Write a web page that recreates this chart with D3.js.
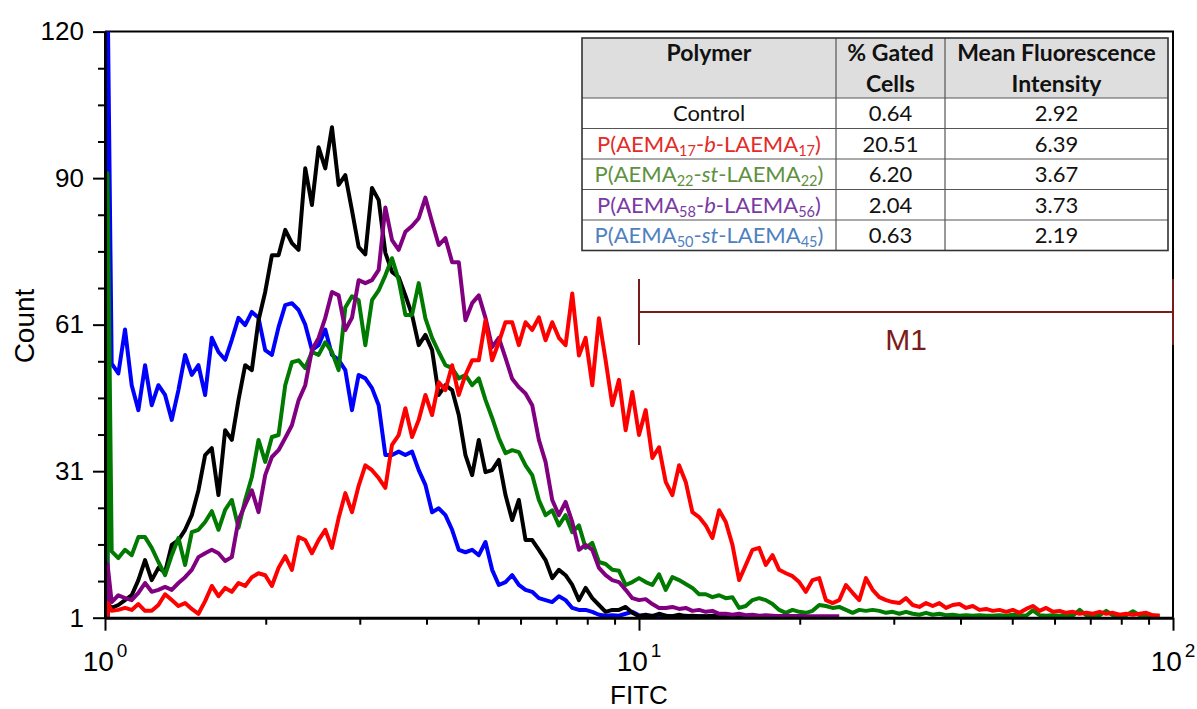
<!DOCTYPE html>
<html>
<head>
<meta charset="utf-8">
<script src="https://cdn.jsdelivr.net/npm/d3@7"></script>
<style>
  body { margin: 0; background: #fff; }
  svg { display: block; }
</style>
</head>
<body>
<svg id="chart" width="1197" height="709"></svg>
<script>
// histogram channels: one point every 0.0125 decade, starting at 10^0
const logStep = 0.0125;

const blueSeries = [130, 52, 50, 59, 47.6, 42.5, 51.7, 43.5, 47.6, 45.6,
  40.5, 46.6, 53.8, 49.7, 51.7, 45.6, 57.3, 54.4, 52.8, 56.9,
  61.4, 59.9, 62.6, 61.4, 54.8, 53.8, 59.5, 64, 64.4, 63,
  60, 54.8, 55.8, 59, 53.8, 52.8, 50.7, 42.5, 49.7, 49,
  47, 43.5, 33.3, 33.3, 34, 33.3, 34, 30.2, 27.2, 21.6,
  22.4, 21, 18, 13.9, 13.4, 13.9, 12.8, 15.5, 9.8, 6.7,
  7.3, 8.7, 6.7, 5.7, 5.3, 4, 3.6, 3.2, 4.4, 3.6,
  2, 1.6, 1.6, 1.2, 0.6, 0.4, 0.5, 0.4, 0.8, 1.2,
  0.5, 0.4, 0.4, 0.3, 0.4, 0.3, 0.3, 0.4, 0.3, 0.3, 0.3];

const blackSeries = [3, 2, 2.6, 3.6, 4.6, 7.7, 11.8, 7.7, 10.2, 9.3,
  14.9, 15.9, 18, 21, 26.1, 33.3, 34.7, 25.1, 38.4, 36.4,
  44.6, 51.7, 50.7, 60.9, 66.7, 74.2, 74.2, 79.4, 76.7, 75.3,
  92, 84.5, 96.3, 92, 100.4, 88.6, 90.6, 83.4, 75.9, 74.4,
  88, 85.5, 74.7, 70.8, 69.7, 66, 62, 55.8, 57.9, 54.8,
  45.6, 47.6, 46.6, 41.5, 33.3, 29.2, 36.4, 29.8, 30.2, 32.3,
  25.1, 20, 24.1, 15.9, 15.9, 13.9, 11.8, 8.1, 9.8, 8.7,
  6.7, 3.6, 6.1, 4, 2.6, 1.2, 1.6, 1.6, 2.2, 1,
  0.3, 0.6, 0.3, 0.8, 0.4, 0.3, 0.6, 0.3, 0.4, 0.3,
  0.3, 0.4, 0.3, 0.3, 0.3, 0.3, 0.3, 0.3, 0.3, 0.3,
  0.3, 0.3, 0.3, 0.3, 0.3, 0.3];

const greenSeries = [91, 13.6, 12.2, 13.9, 12.8, 16.5, 16.5, 14.3, 11.4, 8.7,
  12.8, 16.3, 10.8, 17.5, 18, 19.6, 21.8, 18, 22.1, 24.1,
  18.4, 24.1, 28.8, 36.4, 31.9, 37, 37.4, 47.6, 52.3, 52.7,
  51.1, 54.4, 53.8, 56.4, 54.4, 50.7, 63.5, 65.8, 65, 55.8,
  65, 67, 70.1, 73.6, 69.1, 62, 62, 68.5, 61.3, 57.3,
  54.4, 51.7, 51.1, 49, 49.7, 47.6, 49, 44.6, 40.9, 36.8,
  33.7, 34.3, 33.9, 31.2, 29.2, 24.1, 21, 22, 18.9, 21,
  17.5, 18.9, 14.3, 15.3, 11.4, 11, 9.8, 9.6, 6.7, 7.3,
  8.1, 7.3, 6.7, 8.9, 5.7, 8.3, 7.7, 6.9, 6.1, 4.8,
  4.8, 4.2, 4.6, 4, 4.2, 2, 2.4, 3.6, 4, 3.6,
  2.8, 1.6, 1, 1.6, 1.2, 1, 1.4, 2.6, 2.4, 2,
  2.2, 1.6, 1, 1.6, 1.4, 1.6, 1.4, 1, 1.2, 0.8,
  1.2, 0.8, 0.6, 1, 0.6, 0.8, 0.5, 0.6, 0.4, 0.5,
  0.4, 0.5, 0.4, 0.4, 0.5, 0.4, 0.6, 0.5, 0.4, 1.5,
  0.5, 0.4, 0.5, 0.4, 0.6, 0.4, 1.6, 0.5, 0.4, 0.5,
  1.4, 0.5, 0.4, 0.5, 1.3, 0.5, 0.4, 0.4, 0.4];

const purpleSeries = [11, 3.2, 4.6, 4, 3.6, 5.1, 7.1, 5.3, 5.7, 6.3,
  5.7, 7.1, 8.3, 9.8, 12.4, 13.2, 13.9, 13.2, 11.6, 12.4,
  20, 23.1, 26.1, 21.6, 29.2, 32.9, 34.3, 36.8, 39.4, 44.5,
  47.6, 54.8, 57.3, 61.4, 66.7, 66, 58.9, 61.4, 69.1, 68.5,
  69.1, 71.2, 84, 77.3, 75.3, 79, 80.2, 81.8, 86, 81,
  76.3, 77.7, 72.8, 72.8, 60.9, 64.4, 66, 61.4, 55.4, 57.3,
  53.2, 48.9, 47.2, 45.9, 43.5, 36.4, 31.9, 24.1, 21, 23.7,
  19.6, 13.9, 14.9, 13.9, 10.2, 8.7, 7.7, 7.3, 5.7, 4,
  3.6, 3.8, 2.8, 2, 2, 2.2, 1.8, 2, 1.4, 1.6,
  1.2, 1.4, 0.8, 0.8, 0.6, 0.8, 0.5, 0.6, 0.4, 0.5,
  0.4, 0.3, 0.4, 0.3, 0.3, 0.3, 0.3, 0.3, 0.3, 0.3, 0.3];

const redSeries = [3, 1.4, 1.6, 2, 1.6, 2.8, 1.4, 1.4, 2.6, 4.8,
  3.6, 2.4, 3, 1.8, 0.8, 3.4, 6.5, 4.4, 6.1, 5.3,
  7.1, 6.5, 8.3, 9.1, 8.7, 6.5, 10.2, 12.6, 9.8, 16.5,
  15.9, 13.2, 15.9, 18, 14.3, 20.4, 25.5, 21.6, 27, 31.2,
  30.2, 28.6, 26.6, 35.4, 37.4, 42.9, 37, 40.5, 45.6, 41.5,
  48.2, 46.6, 51.7, 45.6, 49.7, 52.7, 52.7, 60.9, 52.7, 56.4,
  60.5, 60.5, 55.8, 60.5, 58.9, 61.5, 56.8, 60.5, 57.3, 55.8,
  66.4, 53.7, 57.3, 47.6, 61.3, 52.7, 43.5, 48.7, 38.4, 46.2,
  37.4, 42.5, 32.7, 34.9, 27.8, 25.1, 31.2, 27.8, 21.6, 20.6,
  18.9, 16.3, 22, 19.6, 14.9, 7.7, 10.8, 13.9, 14.3, 10.8,
  12.8, 9.8, 9.1, 8.5, 7.3, 5.3, 7.7, 8.1, 3.6, 3,
  3.6, 6.7, 5.1, 3.6, 8.1, 5.7, 4.2, 3.6, 3.2, 3,
  4, 2.6, 2.2, 3, 2.4, 3, 2, 2.6, 2.8, 2,
  2.4, 1.6, 1.8, 1.4, 1.6, 1.2, 1.6, 1, 1.8, 2.4,
  1.4, 2, 1.2, 1.4, 1, 1.2, 0.8, 1, 0.8, 1.2,
  0.8, 1, 0.6, 0.8, 0.6, 0.8, 1, 0.5, 0.4];

// axis ticks
const yTickValues = [0, 30, 60, 90, 120];
const yTickLabels = ["1", "31", "61", "90", "120"];
const xMajorTicks = [1, 10, 100];
const xExponents = ["0", "1", "2"];

// marker M1 covers 10^1 .. 10^2
const markerRange = [10, 100];
const markerName = "M1";

// table
const tableHeader = [["Polymer"], ["% Gated", "Cells"], ["Mean Fluorescence", "Intensity"]];
const polymerNames = ["Control", "P(AEMA{17}-*b*-LAEMA{17})", "P(AEMA{22}-*st*-LAEMA{22})",
  "P(AEMA{58}-*b*-LAEMA{56})", "P(AEMA{50}-*st*-LAEMA{45})"];
const gatedCells = ["0.64", "20.51", "6.20", "2.04", "0.63"];
const meanIntensity = ["2.92", "6.39", "3.67", "3.73", "2.19"];
const nameColors = ["#111", "#e42b27", "#5e9140", "#7a3aa3", "#4f81c0"];

const series = [
  {values: blueSeries, color: "#0000ff"},
  {values: blackSeries, color: "#000000"},
  {values: greenSeries, color: "#007a00"},
  {values: purpleSeries, color: "#800080"},
  {values: redSeries, color: "#ff0000"}
];

const svg = d3.select("#chart");
const font = "'Liberation Sans', Arial, sans-serif";

const x = d3.scaleLog().domain([1, 100]).range([105, 1173]);
const y = d3.scaleLinear().domain([0, 120]).range([617.7, 31.6]);

svg.append("defs").append("clipPath").attr("id", "plotClip")
  .append("rect")
  .attr("x", x(1)).attr("y", y(120))
  .attr("width", x(100) - x(1)).attr("height", y(0) - y(120));

// frame (top and right)
svg.append("path")
  .attr("d", `M${x(1)},${y(120)}H${x(100)}V${y(0)}`)
  .attr("fill", "none").attr("stroke", "#000").attr("stroke-width", 2);

// curves
const line = d3.line().x(d => d[0]).y(d => y(d[1]));
function points(values) {
  // first channel holds everything below 10^0 : drawn as a vertical bar just inside the axis
  const pts = values.map((v, i) => [i === 0 ? x(1) + 2.5 : x(Math.pow(10, i * logStep)), v]);
  pts.unshift([x(1) + 2.5, 0]);
  return pts;
}
svg.append("g").attr("clip-path", "url(#plotClip)")
  .selectAll("path")
  .data(series)
  .enter().append("path")
    .attr("d", d => line(points(d.values)))
    .attr("fill", "none")
    .attr("stroke", d => d.color)
    .attr("stroke-width", 4)
    .attr("stroke-linejoin", "round");

// x axis
const xMinor = [];
[1, 10].forEach(dec => { for (let k = 2; k <= 9; k++) xMinor.push(dec * k); });

const xAxis = svg.append("g").attr("transform", `translate(0,${y(0)})`);
xAxis.call(d3.axisBottom(x).tickValues(xMajorTicks).tickFormat("").tickSize(13).tickSizeOuter(0));
xAxis.append("g").call(d3.axisBottom(x).tickValues(xMinor).tickFormat("").tickSize(7).tickSizeOuter(0))
  .select(".domain").remove();
xAxis.selectAll(".domain").attr("stroke-width", 3);
xAxis.selectAll(".tick line").attr("stroke-width", 2);

const xLabels = svg.append("g").attr("font-family", font).attr("fill", "#000");
xMajorTicks.forEach((t, i) => {
  const lab = xLabels.append("text").attr("x", x(t)).attr("y", 671)
    .attr("text-anchor", "middle").attr("font-size", 28);
  lab.append("tspan").text("10");
  lab.append("tspan").attr("font-size", 19).attr("dy", -14).attr("dx", 3).text(xExponents[i]);
});

svg.append("text").attr("x", x(10)).attr("y", 704)
  .attr("text-anchor", "middle").attr("font-family", font).attr("font-size", 26)
  .text("FITC");

// y axis
const yMinor = d3.range(7.5, 120, 7.5).filter(v => v % 30 !== 0);
const yAxis = svg.append("g").attr("transform", `translate(${x(1)},0)`);
yAxis.call(d3.axisLeft(y).tickValues(yTickValues)
  .tickFormat((d, i) => yTickLabels[i]).tickSize(12).tickPadding(9).tickSizeOuter(0));
yAxis.append("g").call(d3.axisLeft(y).tickValues(yMinor).tickFormat("").tickSize(7).tickSizeOuter(0))
  .select(".domain").remove();
yAxis.selectAll(".domain").attr("stroke-width", 3);
yAxis.selectAll(".tick line").attr("stroke-width", 2);
yAxis.selectAll(".tick text").attr("font-family", font).attr("font-size", 26).attr("fill", "#000");

svg.append("text")
  .attr("transform", "translate(34,326) rotate(-90)")
  .attr("text-anchor", "middle").attr("font-family", font).attr("font-size", 28)
  .text("Count");

// M1 gate marker
const mColor = "#7b1c1c";
const mY = 312;
const marker = svg.append("g").attr("stroke", mColor).attr("stroke-width", 2).attr("fill", "none");
marker.append("line").attr("x1", x(markerRange[0])).attr("x2", x(markerRange[1])).attr("y1", mY).attr("y2", mY);
markerRange.forEach(v => {
  marker.append("line").attr("x1", x(v)).attr("x2", x(v)).attr("y1", mY - 33).attr("y2", mY + 33);
});
svg.append("text")
  .attr("x", (x(markerRange[0]) + x(markerRange[1])) / 2).attr("y", 350)
  .attr("text-anchor", "middle").attr("font-family", font).attr("font-size", 30)
  .attr("fill", mColor).text(markerName);

// table
const colX = [582, 836, 945, 1168];
const tableTop = 38, headerBottom = 98, rowH = 30.5;
const tableBottom = headerBottom + rowH * polymerNames.length;
const tfont = "Lato, 'Open Sans', sans-serif";
const table = svg.append("g").attr("font-family", tfont);

table.append("rect").attr("x", colX[0]).attr("y", tableTop)
  .attr("width", colX[3] - colX[0]).attr("height", tableBottom - tableTop).attr("fill", "#fff");
table.append("rect").attr("x", colX[0]).attr("y", tableTop)
  .attr("width", colX[3] - colX[0]).attr("height", headerBottom - tableTop).attr("fill", "#dedede");

const grid = table.append("g").attr("stroke", "#555").attr("stroke-width", 1.2);
d3.range(polymerNames.length).forEach(r => {
  const yy = headerBottom + r * rowH;
  grid.append("line").attr("x1", colX[0]).attr("x2", colX[3]).attr("y1", yy).attr("y2", yy);
});
colX.slice(1, 3).forEach(cx => {
  grid.append("line").attr("x1", cx).attr("x2", cx).attr("y1", tableTop).attr("y2", tableBottom);
});
table.append("rect").attr("x", colX[0]).attr("y", tableTop)
  .attr("width", colX[3] - colX[0]).attr("height", tableBottom - tableTop)
  .attr("fill", "none").attr("stroke", "#333").attr("stroke-width", 1.6);

const colCenter = [0, 1, 2].map(c => (colX[c] + colX[c + 1]) / 2);
tableHeader.forEach((lines, c) => {
  lines.forEach((txt, k) => {
    table.append("text").attr("x", colCenter[c]).attr("y", 61 + k * 31)
      .attr("text-anchor", "middle").attr("font-size", 23).attr("font-weight", "bold")
      .attr("fill", "#111").text(txt);
  });
});

function richText(sel, str) {
  // {..} = subscript, *..* = italic
  const parts = str.split(/(\{[^}]*\}|\*[^*]*\*)/).filter(s => s.length);
  let shifted = false;
  parts.forEach(p => {
    const t = sel.append("tspan");
    if (p[0] === "{") {
      t.text(p.slice(1, -1)).attr("font-size", "0.66em").attr("dy", 4);
      shifted = true;
    } else {
      if (shifted) { t.attr("dy", -4); shifted = false; }
      if (p[0] === "*") t.attr("font-style", "italic").text(p.slice(1, -1));
      else t.text(p);
    }
  });
}

polymerNames.forEach((name, r) => {
  const cy = headerBottom + r * rowH + rowH / 2 + 8;
  const t = table.append("text").attr("x", colCenter[0]).attr("y", cy)
    .attr("text-anchor", "middle").attr("font-size", 22).attr("fill", nameColors[r]);
  richText(t, name);
  table.append("text").attr("x", colCenter[1]).attr("y", cy)
    .attr("text-anchor", "middle").attr("font-size", 22).attr("fill", "#111").text(gatedCells[r]);
  table.append("text").attr("x", colCenter[2]).attr("y", cy)
    .attr("text-anchor", "middle").attr("font-size", 22).attr("fill", "#111").text(meanIntensity[r]);
});
</script>
</body>
</html>
